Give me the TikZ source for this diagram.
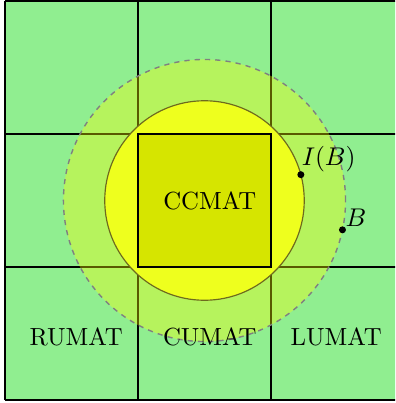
\documentclass[tikz,border=0pt]{standalone}
\usepackage{xcolor}
\usepackage{amsmath,amssymb}
\usepackage{tikz}
\usetikzlibrary{positioning,calc}
\definecolor{cellc}{HTML}{90EE90}
\definecolor{ringc}{HTML}{FFFF00}
\definecolor{diskc}{HTML}{EEFF1E}
\definecolor{squarec}{HTML}{D6E500}
\definecolor{rimc}{HTML}{6E6A1E}
\tikzset{
  gridline/.style={black,line width=0.7pt},
  dotpt/.style={circle,fill=black,inner sep=0pt,minimum size=3pt},
  cellname/.style={inner sep=1pt,font=\fontsize{10.6}{12}\selectfont}
}
\newcommand{\cellbase}[2]{%
  \fill[cellc] (0,0) rectangle (#1*2,#2*2);
  \draw[gridline,step=2] (0,0) grid (#1*2,#2*2);
}

\begin{document}
\begin{tikzpicture}
  \useasboundingbox (-0.075,-0.045) rectangle (5.865,6.015);
  \clip (-0.075,-0.045) rectangle (5.865,6.015);
  \fill[white] (-0.075,-0.045) rectangle (5.865,6.015);
  % the 3x3 blocks
  \cellbase{3}{3}
  \coordinate (o) at (3,3);
  % outer ring and inner disk
  \fill[ringc,fill opacity=0.35] (o) circle (2.121);
  \draw[gray,dash pattern=on 2.2pt off 2.2pt,line width=0.6pt] (o) circle (2.121);
  \fill[diskc] (o) circle (1.5);
  \draw[rimc,line width=0.5pt] (o) circle (1.5);
  % centre block
  \draw[gridline,fill=squarec] (2,2) rectangle (4,4);
  \node[cellname] (ccmat) at (3.08,3) {CCMAT};
  \node[cellname] (rumat) at (1.07,0.95) {RUMAT};
  \node[cellname] (cumat) at (3.08,0.95) {CUMAT};
  \node[cellname] (lumat) at (4.98,0.95) {LUMAT};
  % the two points
  \node[dotpt] (pib) at ($(o)+(15:1.5)$) {};
  \node[dotpt] (pb) at ($(o)+(-12:2.121)$) {};
  \node[above right=-1pt and -2pt of pib,inner sep=1pt,font=\fontsize{10.6}{12}\selectfont] (lib) {$I(B)$};
  \node[above right=-1pt and -1pt of pb,inner sep=1pt,font=\fontsize{10.6}{12}\selectfont] (lb) {$B$};
\end{tikzpicture}
\end{document}
